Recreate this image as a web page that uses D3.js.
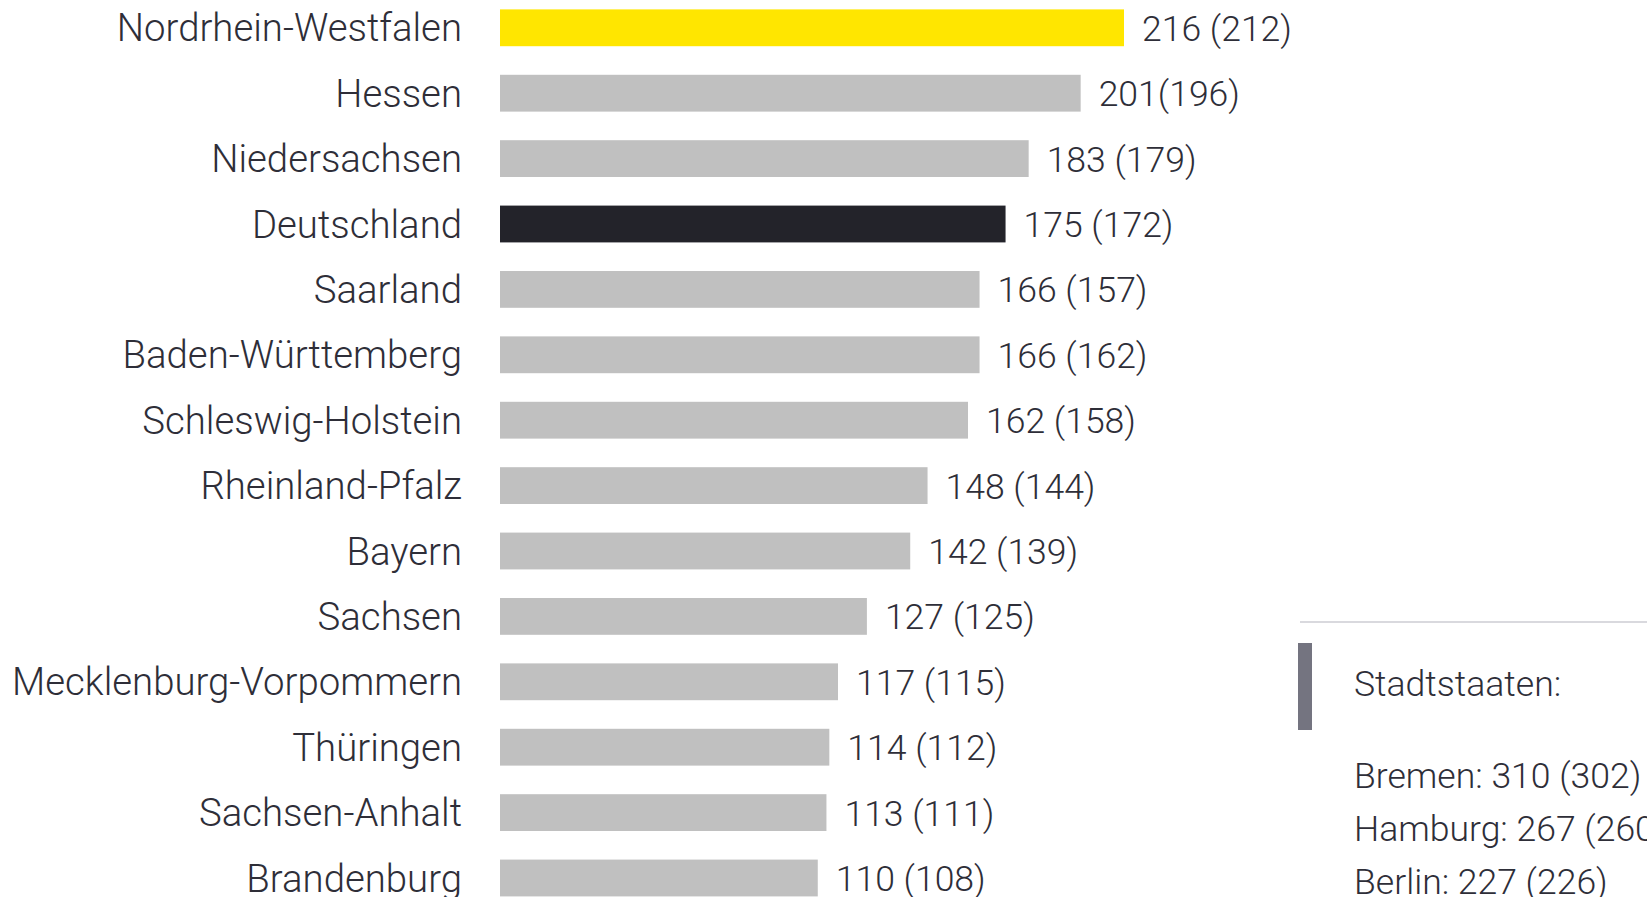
<!DOCTYPE html>
<html><head><meta charset="utf-8">
<script src="https://cdn.jsdelivr.net/npm/d3@7"></script>
<style>
html,body{margin:0;padding:0;background:#fff;}
svg{display:block;}
text{font-family:Roboto, "Open Sans", sans-serif;font-weight:300;fill:#2e2e38;}
</style></head>
<body>
<svg id="chart" width="1647" height="897"></svg>
<script>
const states = ["Nordrhein-Westfalen","Hessen","Niedersachsen","Deutschland","Saarland","Baden-Württemberg","Schleswig-Holstein","Rheinland-Pfalz","Bayern","Sachsen","Mecklenburg-Vorpommern","Thüringen","Sachsen-Anhalt","Brandenburg"];
const values = [216,201,183,175,166,166,162,148,142,127,117,114,113,110];
const previous = [212,196,179,172,157,162,158,144,139,125,115,112,111,108];
const cityStates = ["Bremen","Hamburg","Berlin"];
const cityValues = [310,267,227];
const cityPrevious = [302,260,226];
const boxTitle = "Stadtstaaten:";

const svg = d3.select("#chart");
const W = 1647, H = 897;

const x = d3.scaleLinear().domain([0, 216]).range([500, 1124]);
const y = d3.scaleBand().domain(states).range([-4.9, -4.9 + 14*65.4]).paddingInner(0.437).paddingOuter(0.2185);

function colorFor(s){
  if (s === "Nordrhein-Westfalen") return "#ffe600";
  if (s === "Deutschland") return "#23232a";
  return "#c0c0c0";
}

const data = states.map((s,i)=>({s, v: values[i], p: previous[i]}));

svg.append("g").selectAll("rect").data(data).join("rect")
  .attr("x", x(0)).attr("y", d=>y(d.s))
  .attr("width", d=>x(d.v)-x(0)).attr("height", y.bandwidth())
  .attr("fill", d=>colorFor(d.s));

// category labels
const cat = svg.append("g").selectAll("text").data(data).join("text")
  .attr("x", 462).attr("y", d=>y(d.s)+y.bandwidth()/2)
  .attr("text-anchor","end").attr("dominant-baseline","central")
  .style("font-size","34px")
  .text(d=>d.s);
(function(){
  const node = cat.filter(d=>d.s==="Mecklenburg-Vorpommern").node();
  const w = node.getComputedTextLength();
  cat.style("font-size", (34 * 450 / w)+"px");
})();

// value labels
const fmt = (d)=> d.s === "Hessen" ? `${d.v}(${d.p})` : `${d.v} (${d.p})`;
const val = svg.append("g").selectAll("text").data(data).join("text")
  .attr("x", d=>x(d.v)+18).attr("y", d=>y(d.s)+y.bandwidth()/2+1)
  .attr("dominant-baseline","central")
  .style("font-size","30px")
  .text(fmt);
let valFs = 30;
(function(){
  const node = val.filter(d=>d.s==="Nordrhein-Westfalen").node();
  const w = node.getComputedTextLength();
  valFs = 30 * 150 / w;
  val.style("font-size", valFs+"px");
})();

// Stadtstaaten box
const box = svg.append("g");
box.append("line").attr("x1",1300).attr("x2",W).attr("y1",622).attr("y2",622)
  .attr("stroke","#d9d9de").attr("stroke-width",2);
box.append("rect").attr("x",1298).attr("y",643).attr("width",14).attr("height",87).attr("fill","#747480");
box.append("text").attr("x",1354).attr("y",684).attr("dominant-baseline","central")
  .style("font-size", valFs+"px").text(boxTitle);
const cityY = d3.scalePoint().domain(cityStates).range([776, 882]);
box.selectAll("text.city").data(cityStates).join("text").attr("class","city")
  .attr("x",1354).attr("y",d=>cityY(d)).attr("dominant-baseline","central")
  .style("font-size", valFs+"px")
  .text((d,i)=>`${d}: ${cityValues[i]} (${cityPrevious[i]})`);
</script>
</body></html>
